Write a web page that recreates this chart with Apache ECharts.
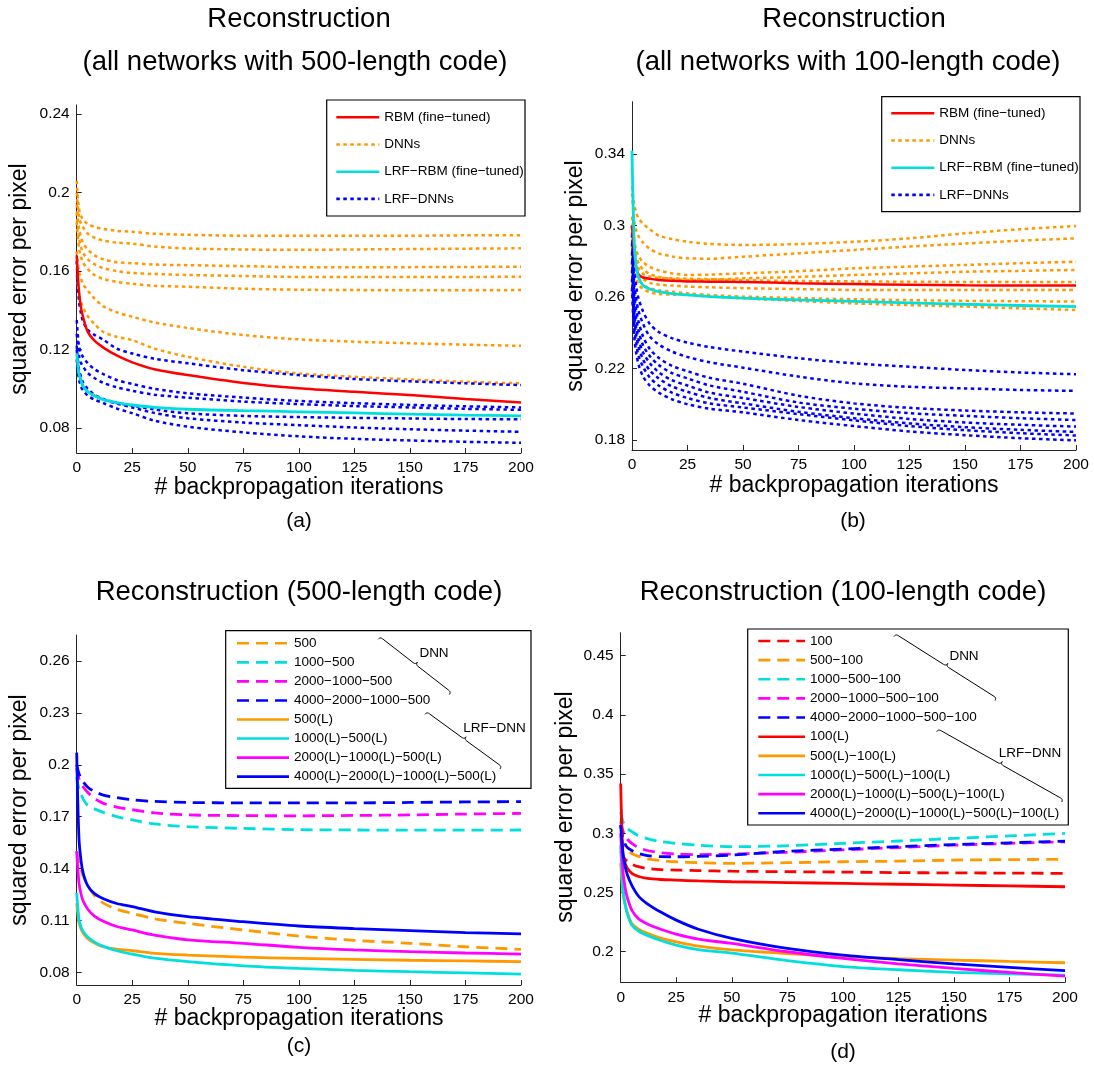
<!DOCTYPE html>
<html>
<head>
<meta charset="utf-8">
<script src="https://cdn.jsdelivr.net/npm/echarts@6/dist/echarts.min.js"></script>
<style>
  html, body { margin: 0; padding: 0; background: #fff; }
  #chart { width: 1094px; height: 1070px; }
</style>
</head>
<body>
<div id="chart"></div>
<script>
// Backpropagation iterations at which the reconstruction error is sampled
const iterations = [0, 1, 2, 3, 5, 8, 12, 18, 25, 35, 50, 75, 100, 125, 150, 175, 200];

// Tick values of each panel's error axis
const aYTicks = [0.08, 0.12, 0.16, 0.2, 0.24];
const bYTicks = [0.18, 0.22, 0.26, 0.3, 0.34];
const cYTicks = [0.08, 0.11, 0.14, 0.17, 0.2, 0.23, 0.26];
const dYTicks = [0.2, 0.25, 0.3, 0.35, 0.4, 0.45];

// (a) all networks with 500-length code
const aRbm    = [0.168, 0.150, 0.141, 0.136, 0.129, 0.1245, 0.121, 0.117, 0.1135, 0.110, 0.107, 0.103, 0.1003, 0.0985, 0.0968, 0.0948, 0.093];
const aLrfRbm = [0.118, 0.108, 0.104, 0.101, 0.0985, 0.0965, 0.0945, 0.093, 0.0918, 0.0905, 0.0896, 0.0889, 0.0883, 0.0877, 0.0871, 0.0866, 0.0862];
const aDnn1 = [0.206, 0.192, 0.188, 0.186, 0.184, 0.1825, 0.1815, 0.1805, 0.180, 0.179, 0.1785, 0.178, 0.178, 0.178, 0.178, 0.1782, 0.1783];
const aDnn2 = [0.200, 0.188, 0.184, 0.182, 0.179, 0.177, 0.1755, 0.1745, 0.174, 0.1725, 0.1715, 0.171, 0.1708, 0.171, 0.1712, 0.1714, 0.1716];
const aDnn3 = [0.194, 0.182, 0.177, 0.174, 0.171, 0.168, 0.166, 0.1645, 0.164, 0.1633, 0.163, 0.1625, 0.162, 0.162, 0.162, 0.1621, 0.1622];
const aDnn4 = [0.190, 0.177, 0.172, 0.169, 0.166, 0.1635, 0.1615, 0.160, 0.159, 0.1585, 0.158, 0.1575, 0.157, 0.157, 0.157, 0.157, 0.1571];
const aDnn5 = [0.185, 0.172, 0.167, 0.164, 0.161, 0.158, 0.156, 0.1545, 0.1535, 0.1525, 0.152, 0.151, 0.1505, 0.1503, 0.1502, 0.1502, 0.1503];
const aDnn6 = [0.170, 0.160, 0.156, 0.153, 0.150, 0.146, 0.142, 0.139, 0.1367, 0.1338, 0.131, 0.1274, 0.1252, 0.124, 0.1232, 0.1225, 0.1219];
const aDnn7 = [0.158, 0.148, 0.144, 0.141, 0.137, 0.133, 0.129, 0.1265, 0.1248, 0.1205, 0.1163, 0.1112, 0.1078, 0.1061, 0.1048, 0.1036, 0.1028];
const aLrfDnn1 = [0.165, 0.145, 0.138, 0.134, 0.130, 0.1275, 0.125, 0.1205, 0.118, 0.1153, 0.113, 0.1095, 0.107, 0.105, 0.1038, 0.1028, 0.1019];
const aLrfDnn2 = [0.135, 0.122, 0.118, 0.116, 0.113, 0.110, 0.1075, 0.1045, 0.1025, 0.100, 0.0977, 0.0955, 0.0938, 0.0927, 0.0918, 0.0911, 0.0905];
const aLrfDnn3 = [0.128, 0.117, 0.113, 0.111, 0.108, 0.1055, 0.103, 0.1008, 0.099, 0.097, 0.0955, 0.0935, 0.0922, 0.0912, 0.0905, 0.0898, 0.0893];
const aLrfDnn4 = [0.122, 0.110, 0.106, 0.103, 0.100, 0.097, 0.0948, 0.0928, 0.0915, 0.0895, 0.0875, 0.0862, 0.0856, 0.0852, 0.0849, 0.0846, 0.0845];
const aLrfDnn5 = [0.120, 0.108, 0.104, 0.101, 0.0985, 0.0965, 0.0945, 0.0925, 0.0905, 0.0877, 0.085, 0.0828, 0.0815, 0.0803, 0.0794, 0.0787, 0.0781];
const aLrfDnn6 = [0.115, 0.105, 0.101, 0.099, 0.0965, 0.0945, 0.0927, 0.090, 0.0876, 0.0838, 0.0807, 0.0778, 0.0758, 0.0745, 0.0737, 0.073, 0.0725];

// (b) all networks with 100-length code
const bRbm    = [0.300, 0.285, 0.276, 0.2725, 0.271, 0.2702, 0.2696, 0.2691, 0.2688, 0.2686, 0.2685, 0.2678, 0.2673, 0.2669, 0.2666, 0.2665, 0.2665];
const bLrfRbm = [0.342, 0.290, 0.276, 0.271, 0.2665, 0.2645, 0.263, 0.262, 0.2612, 0.2603, 0.2594, 0.2584, 0.2576, 0.2568, 0.256, 0.2553, 0.2547];
const bDnn1 = [0.322, 0.312, 0.307, 0.304, 0.301, 0.298, 0.2945, 0.2925, 0.291, 0.2898, 0.2892, 0.2897, 0.291, 0.2929, 0.2957, 0.298, 0.2998];
const bDnn2 = [0.318, 0.303, 0.297, 0.294, 0.2905, 0.287, 0.2845, 0.2828, 0.2817, 0.2815, 0.2826, 0.2845, 0.2864, 0.2883, 0.290, 0.2916, 0.2929];
const bDnn3 = [0.305, 0.292, 0.286, 0.283, 0.2795, 0.277, 0.275, 0.2733, 0.2724, 0.2726, 0.2733, 0.2745, 0.2761, 0.2771, 0.278, 0.279, 0.2798];
const bDnn4 = [0.300, 0.288, 0.282, 0.279, 0.2755, 0.273, 0.2713, 0.2702, 0.2696, 0.2698, 0.2705, 0.2713, 0.2724, 0.2733, 0.2742, 0.2747, 0.2752];
const bDnn5 = [0.296, 0.285, 0.279, 0.276, 0.273, 0.2715, 0.2708, 0.2705, 0.2703, 0.270, 0.2695, 0.269, 0.2688, 0.2686, 0.2685, 0.2685, 0.2685];
const bDnn6 = [0.292, 0.281, 0.276, 0.273, 0.270, 0.268, 0.267, 0.2665, 0.2659, 0.2655, 0.265, 0.2645, 0.264, 0.264, 0.264, 0.264, 0.264];
const bDnn7 = [0.288, 0.278, 0.273, 0.270, 0.267, 0.265, 0.2638, 0.263, 0.2621, 0.2612, 0.2603, 0.2595, 0.2588, 0.2583, 0.2579, 0.2577, 0.2575];
const bDnn8 = [0.285, 0.275, 0.270, 0.267, 0.2645, 0.2628, 0.2618, 0.2614, 0.2612, 0.2603, 0.2593, 0.2578, 0.2565, 0.2555, 0.2547, 0.2537, 0.2528];
const bLrfDnn1 = [0.300, 0.275, 0.265, 0.259, 0.252, 0.245, 0.2405, 0.237, 0.2345, 0.232, 0.2295, 0.2258, 0.2229, 0.221, 0.2192, 0.2178, 0.2168];
const bLrfDnn2 = [0.295, 0.268, 0.258, 0.252, 0.245, 0.238, 0.2335, 0.2295, 0.2265, 0.2235, 0.2205, 0.2155, 0.2117, 0.2098, 0.2089, 0.208, 0.2075];
const bLrfDnn3 = [0.290, 0.262, 0.252, 0.246, 0.238, 0.231, 0.226, 0.2215, 0.2185, 0.2148, 0.2115, 0.2048, 0.2005, 0.198, 0.1965, 0.1955, 0.1948];
const bLrfDnn4 = [0.285, 0.257, 0.247, 0.241, 0.233, 0.227, 0.222, 0.2175, 0.2145, 0.2105, 0.207, 0.201, 0.1975, 0.195, 0.1935, 0.1922, 0.1912];
const bLrfDnn5 = [0.280, 0.252, 0.242, 0.236, 0.229, 0.223, 0.218, 0.2135, 0.2105, 0.2065, 0.2035, 0.1985, 0.1948, 0.1918, 0.1898, 0.1885, 0.1875];
const bLrfDnn6 = [0.275, 0.248, 0.238, 0.232, 0.225, 0.219, 0.2145, 0.210, 0.207, 0.2035, 0.2005, 0.1958, 0.1922, 0.1893, 0.1872, 0.1857, 0.1845];
const bLrfDnn7 = [0.270, 0.243, 0.233, 0.227, 0.221, 0.215, 0.2105, 0.2065, 0.2035, 0.2005, 0.1982, 0.1945, 0.191, 0.1878, 0.1855, 0.1838, 0.1825];
const bLrfDnn8 = [0.265, 0.238, 0.228, 0.222, 0.2155, 0.2105, 0.2065, 0.2028, 0.200, 0.1975, 0.1955, 0.1912, 0.1878, 0.1848, 0.1827, 0.181, 0.1798];

// (c) 500-length code, DNN vs LRF-DNN by depth
const cDnn500      = [0.150, 0.143, 0.139, 0.1355, 0.130, 0.1245, 0.120, 0.1165, 0.1141, 0.111, 0.1083, 0.1045, 0.101, 0.0985, 0.0968, 0.0948, 0.0933];
const cDnn1000     = [0.193, 0.186, 0.183, 0.180, 0.1765, 0.1745, 0.1725, 0.170, 0.1681, 0.1658, 0.1642, 0.1632, 0.1625, 0.1623, 0.1622, 0.1622, 0.1623];
const cDnn2000     = [0.198, 0.192, 0.189, 0.187, 0.184, 0.1805, 0.1777, 0.1755, 0.174, 0.1722, 0.171, 0.1706, 0.1705, 0.1707, 0.171, 0.1715, 0.1719];
const cDnn4000     = [0.200, 0.195, 0.192, 0.190, 0.187, 0.1845, 0.1825, 0.181, 0.1798, 0.1788, 0.1782, 0.178, 0.178, 0.178, 0.1782, 0.1785, 0.1787];
const cLrfDnn500   = [0.120, 0.109, 0.105, 0.1025, 0.0995, 0.097, 0.0948, 0.0935, 0.0925, 0.091, 0.090, 0.0888, 0.0881, 0.0875, 0.087, 0.0866, 0.0862];
const cLrfDnn1000  = [0.126, 0.111, 0.106, 0.1035, 0.1005, 0.0975, 0.095, 0.0925, 0.0905, 0.0882, 0.0862, 0.0838, 0.0823, 0.0812, 0.0804, 0.0797, 0.079];
const cLrfDnn2000  = [0.150, 0.132, 0.125, 0.121, 0.1165, 0.1125, 0.1095, 0.1065, 0.1045, 0.1015, 0.0988, 0.0968, 0.0945, 0.093, 0.092, 0.0912, 0.0906];
const cLrfDnn4000  = [0.207, 0.158, 0.144, 0.137, 0.130, 0.1255, 0.1225, 0.1198, 0.118, 0.115, 0.1122, 0.1093, 0.1068, 0.1053, 0.1041, 0.103, 0.1022];

// (d) 100-length code, DNN vs LRF-DNN by depth
const dDnn100      = [0.285, 0.281, 0.278, 0.2765, 0.274, 0.2718, 0.2703, 0.2693, 0.269, 0.2685, 0.268, 0.2676, 0.2673, 0.2668, 0.2666, 0.2664, 0.2662];
const dDnn500      = [0.298, 0.292, 0.2885, 0.286, 0.283, 0.2805, 0.2785, 0.277, 0.276, 0.2752, 0.2746, 0.2752, 0.276, 0.2765, 0.2774, 0.2778, 0.278];
const dDnn1000     = [0.318, 0.310, 0.306, 0.304, 0.3014, 0.298, 0.2955, 0.293, 0.2915, 0.290, 0.2887, 0.2895, 0.2915, 0.2935, 0.2957, 0.2978, 0.2999];
const dDnn2000     = [0.310, 0.302, 0.298, 0.295, 0.2915, 0.288, 0.2855, 0.2835, 0.2825, 0.282, 0.2825, 0.284, 0.286, 0.288, 0.290, 0.2915, 0.2929];
const dDnn4000     = [0.307, 0.296, 0.291, 0.288, 0.2855, 0.283, 0.2812, 0.2803, 0.2802, 0.2806, 0.2816, 0.2848, 0.2867, 0.2887, 0.2905, 0.292, 0.2933];
const dLrfDnn100   = [0.342, 0.283, 0.2746, 0.2705, 0.2662, 0.2635, 0.2619, 0.261, 0.2605, 0.2598, 0.2591, 0.2584, 0.2577, 0.257, 0.2563, 0.2556, 0.2549];
const dLrfDnn500   = [0.275, 0.250, 0.240, 0.233, 0.2239, 0.219, 0.2155, 0.2115, 0.2084, 0.2048, 0.2016, 0.1985, 0.1958, 0.1942, 0.193, 0.1918, 0.1907];
const dLrfDnn1000  = [0.290, 0.252, 0.240, 0.232, 0.2225, 0.2175, 0.2138, 0.2095, 0.2056, 0.2018, 0.1988, 0.1925, 0.1875, 0.1848, 0.1826, 0.1813, 0.1803];
const dLrfDnn2000  = [0.300, 0.268, 0.254, 0.2455, 0.2352, 0.228, 0.2235, 0.219, 0.2149, 0.2107, 0.207, 0.200, 0.1944, 0.1898, 0.1859, 0.1825, 0.1794];
const dLrfDnn4000  = [0.307, 0.283, 0.272, 0.265, 0.256, 0.247, 0.2405, 0.2335, 0.2267, 0.219, 0.2113, 0.2028, 0.1972, 0.1933, 0.1897, 0.1868, 0.1841];

const FONT = '"Liberation Sans", Arial, Helvetica, sans-serif';
const RED = '#ff0000', ORANGE = '#ff9900', CYAN = '#00dede', BLUE = '#0000ff', MAGENTA = '#ff00ff';
const DOTTED = [3.5, 3.5], DASHED = [12, 7];

function line(name, values, color, dash, panel, width) {
  return {
    name: name,
    type: 'line',
    xAxisIndex: panel,
    yAxisIndex: panel,
    data: iterations.map((x, i) => [x, values[i]]),
    symbol: 'none',
    showSymbol: false,
    smooth: 0.3,
    lineStyle: { color: color, width: width || 2.5, type: dash || 'solid', cap: 'butt' },
    itemStyle: { color: color },
    emphasis: { disabled: true },
    silent: true
  };
}

const series = [];
// panel (a)
[aDnn1, aDnn2, aDnn3, aDnn4, aDnn5, aDnn6, aDnn7].forEach(v => series.push(line('DNNs', v, ORANGE, DOTTED, 0)));
[aLrfDnn1, aLrfDnn2, aLrfDnn3, aLrfDnn4, aLrfDnn5, aLrfDnn6].forEach(v => series.push(line('LRF\u2212DNNs', v, BLUE, DOTTED, 0)));
series.push(line('LRF\u2212RBM (fine\u2212tuned)', aLrfRbm, CYAN, 'solid', 0, 2.8));
series.push(line('RBM (fine\u2212tuned)', aRbm, RED, 'solid', 0, 2.5));
// panel (b)
[bDnn1, bDnn2, bDnn3, bDnn4, bDnn5, bDnn6, bDnn7, bDnn8].forEach(v => series.push(line('DNNs', v, ORANGE, DOTTED, 1)));
[bLrfDnn1, bLrfDnn2, bLrfDnn3, bLrfDnn4, bLrfDnn5, bLrfDnn6, bLrfDnn7, bLrfDnn8].forEach(v => series.push(line('LRF\u2212DNNs', v, BLUE, DOTTED, 1)));
series.push(line('RBM (fine\u2212tuned)', bRbm, RED, 'solid', 1, 2.5));
series.push(line('LRF\u2212RBM (fine\u2212tuned)', bLrfRbm, CYAN, 'solid', 1, 2.8));
// panel (c)
const cNames = ['500', '1000\u2212500', '2000\u22121000\u2212500', '4000\u22122000\u22121000\u2212500',
  '500(L)', '1000(L)\u2212500(L)', '2000(L)\u22121000(L)\u2212500(L)', '4000(L)\u22122000(L)\u22121000(L)\u2212500(L)'];
const cValues = [cDnn500, cDnn1000, cDnn2000, cDnn4000, cLrfDnn500, cLrfDnn1000, cLrfDnn2000, cLrfDnn4000];
const cColors = [ORANGE, CYAN, MAGENTA, BLUE, ORANGE, CYAN, MAGENTA, BLUE];
cValues.forEach((v, i) => series.push(line(cNames[i], v, cColors[i], i < 4 ? DASHED : 'solid', 2, 2.8)));
// panel (d)
const dNames = ['100', '500\u2212100', '1000\u2212500\u2212100', '2000\u22121000\u2212500\u2212100', '4000\u22122000\u22121000\u2212500\u2212100',
  '100(L)', '500(L)\u2212100(L)', '1000(L)\u2212500(L)\u2212100(L)', '2000(L)\u22121000(L)\u2212500(L)\u2212100(L)',
  '4000(L)\u22122000(L)\u22121000(L)\u2212500(L)\u2212100(L)'];
const dValues = [dDnn100, dDnn500, dDnn1000, dDnn2000, dDnn4000, dLrfDnn100, dLrfDnn500, dLrfDnn1000, dLrfDnn2000, dLrfDnn4000];
const dColors = [RED, ORANGE, CYAN, MAGENTA, BLUE, RED, ORANGE, CYAN, MAGENTA, BLUE];
dValues.forEach((v, i) => series.push(line(dNames[i], v, dColors[i], i < 5 ? DASHED : 'solid', 3, 2.8)));

// Panel frames: plot area in pixels and the value range of the error axis
const panels = [
  { left: 76.7, top: 105,   width: 444.3, height: 348,   yMin: 0.0673, yMax: 0.2446, ticks: aYTicks },
  { left: 632,  top: 101.7, width: 444,   height: 348.3, yMin: 0.1744, yMax: 0.3694, ticks: bYTicks },
  { left: 76.7, top: 635,   width: 444.3, height: 350,   yMin: 0.0727, yMax: 0.275,  ticks: cYTicks },
  { left: 620.7, top: 632.7, width: 444.3, height: 349.6, yMin: 0.1742, yMax: 0.4694, ticks: dYTicks }
];

const AXIS_COLOR = '#262626';
const grid = panels.map(p => ({ left: p.left, top: p.top, width: p.width, height: p.height, containLabel: false }));
const xAxis = panels.map((p, i) => ({
  gridIndex: i, type: 'value', min: 0, max: 200, interval: 25,
  axisLine: { show: true, onZero: false, lineStyle: { color: AXIS_COLOR, width: 1 } },
  axisTick: { show: true, inside: true, length: 5, lineStyle: { color: AXIS_COLOR } },
  axisLabel: { color: '#000', fontSize: 15.5, fontFamily: FONT, margin: 7 },
  splitLine: { show: false }
}));
const yAxis = panels.map((p, i) => ({
  gridIndex: i, type: 'value', min: p.yMin, max: p.yMax,
  axisLine: { show: true, onZero: false, lineStyle: { color: AXIS_COLOR, width: 1 } },
  axisTick: { show: true, inside: true, length: 5, lineStyle: { color: AXIS_COLOR }, customValues: p.ticks },
  axisLabel: { color: '#000', fontSize: 15.5, fontFamily: FONT, margin: 7, customValues: p.ticks },
  splitLine: { show: false }
}));

// Vertical legend; every row is `rowStep` pixels tall, centred on `firstCenter`
function legend(names, left, firstCenter, itemWidth, rowStep) {
  const rowH = 14;
  return {
    data: names, orient: 'vertical', left: left, top: firstCenter - rowH / 2, padding: 0,
    itemWidth: itemWidth, itemHeight: rowH, itemGap: rowStep - rowH,
    selectedMode: false, z: 20,
    itemStyle: { opacity: 0, borderWidth: 0 },
    lineStyle: { width: 2.6 },
    textStyle: { color: '#000', fontSize: 13.5, fontFamily: FONT, lineHeight: rowH }
  };
}
const legendAB = ['RBM (fine\u2212tuned)', 'DNNs', 'LRF\u2212RBM (fine\u2212tuned)', 'LRF\u2212DNNs'];
const legends = [
  legend(legendAB, 335, 117.3, 43, 27.2),
  legend(legendAB, 890, 113.3, 43, 27.2),
  legend(cNames, 235.7, 643.3, 52, 19.05),
  legend(dNames, 757, 641, 46.7, 19.14)
];

function text(str, x, y, size, opts) {
  return Object.assign({
    type: 'text', x: x, y: y, z: 30, silent: true,
    style: { text: str, fontSize: size, fontFamily: FONT, fill: '#000', textAlign: 'center', textVerticalAlign: 'middle' }
  }, opts || {});
}
function box(x, y, w, h) {
  return { type: 'rect', z: 10, silent: true, shape: { x: x, y: y, width: w, height: h },
    style: { fill: '#fff', stroke: '#000', lineWidth: 1.2 } };
}
// Curly brace from S to E whose tip points toward the group label
function brace(sx, sy, ex, ey) {
  const L = Math.hypot(ex - sx, ey - sy), h = 3;
  const dx = (ex - sx) / L, dy = (ey - sy) / L, nx = dy, ny = -dx;
  const P = (u, v) => [sx + dx * u + nx * v, sy + dy * u + ny * v];
  const pts = [];
  const quad = (a, c, b) => {
    for (let k = 0; k <= 6; k++) {
      const t = k / 6, s = 1 - t;
      pts.push([s * s * a[0] + 2 * s * t * c[0] + t * t * b[0], s * s * a[1] + 2 * s * t * c[1] + t * t * b[1]]);
    }
  };
  const m = L / 2;
  quad(P(0, 0), P(0, h), P(h, h));
  quad(P(m - h, h), P(m, h), P(m, 2 * h));
  quad(P(m, 2 * h), P(m, h), P(m + h, h));
  quad(P(L - h, h), P(L, h), P(L, 0));
  return { type: 'polyline', z: 30, silent: true, shape: { points: pts },
    style: { fill: null, stroke: '#000', lineWidth: 1 } };
}

const TITLE = 27.5, AXNAME = 23, PANEL = 21;
const graphic = [
  box(326.7, 100, 198.3, 116),
  box(881.7, 96.7, 198.3, 115),
  box(225.7, 630.7, 305.3, 157.6),
  box(747.7, 629, 320.6, 196),
  // titles
  text('Reconstruction', 299, 19, TITLE),
  text('(all networks with 500-length code)', 295, 62, TITLE),
  text('Reconstruction', 854, 19, TITLE),
  text('(all networks with 100-length code)', 848, 62, TITLE),
  text('Reconstruction (500-length code)', 299, 592, TITLE),
  text('Reconstruction (100-length code)', 843, 592, TITLE),
  // axis names
  text('# backpropagation iterations', 299, 488, AXNAME),
  text('# backpropagation iterations', 854, 486, AXNAME),
  text('# backpropagation iterations', 299, 1019, AXNAME),
  text('# backpropagation iterations', 843, 1016, AXNAME),
  text('squared error per pixel', 20, 279, AXNAME, { rotation: Math.PI / 2 }),
  text('squared error per pixel', 576, 276, AXNAME, { rotation: Math.PI / 2 }),
  text('squared error per pixel', 20, 810, AXNAME, { rotation: Math.PI / 2 }),
  text('squared error per pixel', 566, 807, AXNAME, { rotation: Math.PI / 2 }),
  // panel labels
  text('(a)', 299, 521, PANEL),
  text('(b)', 853, 521, PANEL),
  text('(c)', 299, 1046, PANEL),
  text('(d)', 843, 1052, PANEL),
  // depth group braces inside the legends
  brace(378.3, 639.3, 449.3, 694.5),
  text('DNN', 434, 653, 13.5),
  brace(425, 714.3, 500, 769),
  text('LRF\u2212DNN', 494.5, 728.5, 13.5),
  brace(894, 636.5, 995, 700.5),
  text('DNN', 964, 656, 13.5),
  brace(936.7, 731.7, 1061.7, 802),
  text('LRF\u2212DNN', 1030, 753, 13.5)
];

const chart = echarts.init(document.getElementById('chart'), null, { renderer: 'canvas' });
chart.setOption({
  animation: false,
  backgroundColor: '#fff',
  textStyle: { fontFamily: FONT },
  grid: grid,
  xAxis: xAxis,
  yAxis: yAxis,
  legend: legends,
  series: series,
  graphic: graphic
});
</script>
</body>
</html>
